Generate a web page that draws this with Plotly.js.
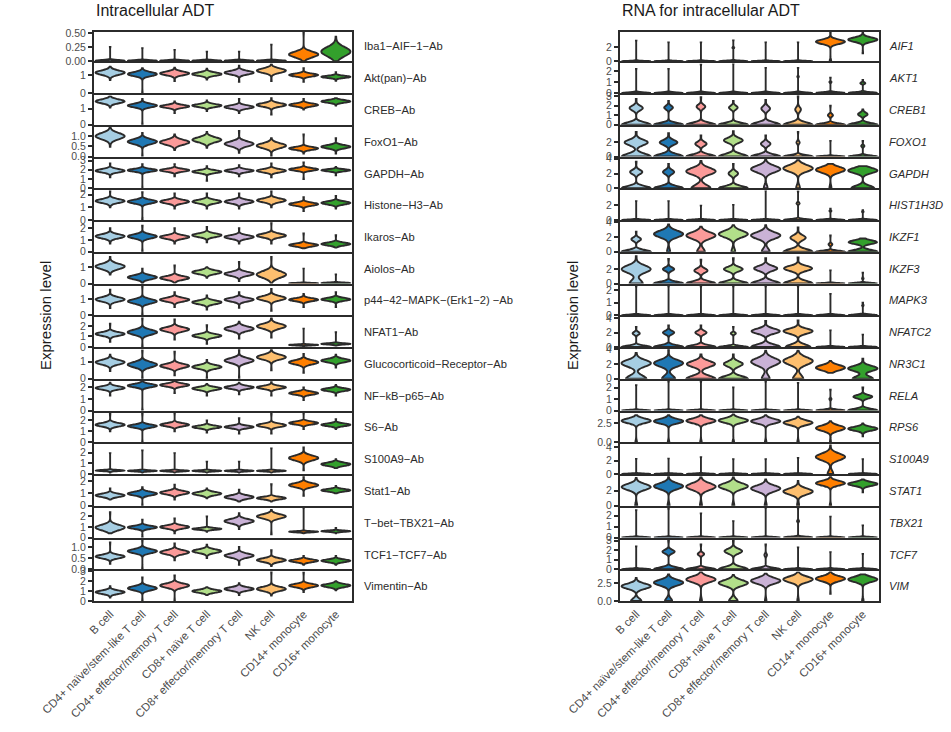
<!DOCTYPE html>
<html>
<head>
<meta charset="utf-8">
<script src="https://cdn.plot.ly/plotly-3.0.1.min.js"></script>
<style>html,body{margin:0;padding:0;background:#fff;}#chart{width:951px;height:732px;}</style>
</head>
<body>
<div id="chart"></div>
<script>
// ---------------- DATA ----------------
const cellTypes = ["B cell","CD4+ naïve/stem-like T cell","CD4+ effector/memory T cell","CD8+ naïve T cell","CD8+ effector/memory T cell","NK cell","CD14+ monocyte","CD16+ monocyte"];

const adtMarkers = ["Iba1\u2212AIF\u22121\u2212Ab","Akt(pan)\u2212Ab","CREB\u2212Ab","FoxO1\u2212Ab","GAPDH\u2212Ab","Histone\u2212H3\u2212Ab","Ikaros\u2212Ab","Aiolos\u2212Ab","p44\u221242\u2212MAPK\u2212(Erk1\u22122) \u2212Ab","NFAT1\u2212Ab","Glucocorticoid\u2212Receptor\u2212Ab","NF\u2212kB\u2212p65\u2212Ab","S6\u2212Ab","S100A9\u2212Ab","Stat1\u2212Ab","T\u2212bet\u2212TBX21\u2212Ab","TCF1\u2212TCF7\u2212Ab","Vimentin\u2212Ab"];
const adtMax = [0.52,1.64,1.83,1.45,3.2,2.33,2.5,1.8,1.8,2.8,1.72,2.55,2.7,2.77,2.38,2.8,1.32,3.0];
const adtTickLabels = [["0.00","0.25","0.50"],["0","1"],["0","1"],["0.0","0.5","1.0"],["0","1","2","3"],["0","1","2"],["0","1","2"],["0","1"],["0","1"],["0","1","2"],["0","1"],["0","1","2"],["0","1","2"],["0","1","2"],["0","1","2"],["0","1","2"],["0.0","0.5","1.0"],["0","1","2","3"]];
const adtCenter = [
 [0.01,0.01,0.01,0.01,0.01,0.01,0.12,0.17],
 [1.13,1.05,1.09,1.05,1.13,1.24,1.0,0.9],
 [1.45,1.19,1.14,1.19,1.1,1.23,1.23,1.45],
 [1.0,0.73,0.7,0.82,0.62,0.53,0.4,0.48],
 [1.9,1.95,1.95,1.8,1.9,1.9,2.05,1.95],
 [1.5,1.45,1.45,1.45,1.45,1.55,1.25,1.35],
 [1.31,1.3,1.25,1.4,1.25,1.37,0.57,0.66],
 [1.04,0.38,0.34,0.69,0.59,0.55,0.02,0.03],
 [0.97,0.85,0.95,0.79,0.95,1.04,0.95,0.97],
 [1.24,1.4,1.67,1.07,1.73,1.97,0.2,0.3],
 [0.96,0.82,0.75,0.69,1.06,1.26,0.96,1.06],
 [1.95,2.15,2.2,1.9,2.0,2.0,1.5,1.8],
 [1.6,1.48,1.6,1.4,1.4,1.55,1.76,1.6],
 [0.33,0.3,0.3,0.3,0.3,0.3,1.5,0.92],
 [0.84,0.98,1.06,0.98,0.7,0.62,1.66,1.25],
 [0.95,0.97,1.0,0.82,1.55,2.0,0.55,0.6],
 [0.57,0.81,0.76,0.81,0.61,0.41,0.38,0.38],
 [0.9,1.3,1.57,1.0,1.23,1.23,1.57,1.57]
];
const adtSpread = [
 [0.012,0.01,0.01,0.01,0.01,0.01,0.05,0.08],
 [0.12,0.11,0.1,0.09,0.1,0.12,0.08,0.06],
 [0.12,0.11,0.09,0.09,0.1,0.11,0.09,0.08],
 [0.15,0.12,0.12,0.12,0.12,0.12,0.07,0.08],
 [0.18,0.15,0.15,0.15,0.15,0.17,0.14,0.11],
 [0.15,0.14,0.14,0.14,0.14,0.15,0.12,0.12],
 [0.17,0.17,0.15,0.15,0.15,0.16,0.12,0.12],
 [0.16,0.12,0.11,0.11,0.12,0.2,0.02,0.03],
 [0.13,0.13,0.11,0.11,0.11,0.13,0.09,0.09],
 [0.17,0.23,0.2,0.16,0.21,0.23,0.04,0.06],
 [0.13,0.15,0.12,0.11,0.14,0.14,0.12,0.1],
 [0.14,0.14,0.13,0.13,0.13,0.13,0.13,0.12],
 [0.16,0.14,0.14,0.12,0.12,0.15,0.13,0.12],
 [0.05,0.05,0.05,0.05,0.05,0.05,0.23,0.15],
 [0.13,0.14,0.14,0.13,0.14,0.1,0.16,0.1],
 [0.25,0.14,0.15,0.08,0.2,0.2,0.05,0.06],
 [0.08,0.09,0.09,0.08,0.09,0.08,0.06,0.06],
 [0.17,0.21,0.21,0.15,0.17,0.21,0.17,0.16]
];
const adtTop = [
 [0.25,0.23,0.2,0.17,0.17,0.29,0.52,0.43],
 [1.46,1.37,1.4,1.35,1.52,1.6,1.37,1.15],
 [1.76,1.6,1.45,1.5,1.6,1.65,1.6,1.65],
 [1.4,1.15,1.08,1.2,1.25,0.9,1.08,0.9],
 [2.7,2.6,2.6,2.4,2.5,2.7,2.8,2.3],
 [2.33,2.2,2.1,2.1,2.1,2.3,1.8,1.9],
 [2.0,2.2,2.0,2.1,2.0,2.5,1.55,1.4],
 [1.62,0.9,1.1,1.0,1.31,1.62,0.9,0.55],
 [1.56,1.8,1.4,1.2,1.4,1.6,1.3,1.4],
 [2.2,2.8,2.6,2.07,2.4,2.8,1.73,1.4],
 [1.4,1.65,1.57,1.1,1.7,1.72,1.45,1.4],
 [2.4,2.55,2.55,2.3,2.4,2.45,2.0,2.2],
 [2.6,2.6,2.7,2.0,2.2,2.6,2.7,2.1],
 [1.96,2.2,1.96,1.15,1.15,2.4,2.5,1.4],
 [1.4,1.5,1.7,1.4,1.3,1.74,2.38,1.6],
 [2.4,1.7,1.8,2.0,2.3,2.6,2.8,0.9],
 [1.2,1.3,1.15,1.1,1.0,0.85,0.6,0.6],
 [1.5,2.4,2.6,1.4,1.8,3.0,2.9,2.0]
];
const adtBottom = [
 [0,0,0,0,0,0,0,0],
 [0.72,0,0.67,0.75,0.63,0.67,0.63,0.68],
 [1.06,0,0.73,0.85,0.73,0.63,0.94,1.19],
 [0.48,0,0.32,0.43,0.18,0,0.15,0.15],
 [1.2,0,1.3,0.8,1.3,1.2,1.0,1.4],
 [1.0,0,0.9,0.9,0.9,1.0,0.7,0.9],
 [0.7,0,0.7,0.8,0.7,0.7,0.3,0.35],
 [0.55,0,0.05,0.35,0.15,0,0,0],
 [0.44,0,0.5,0.35,0.45,0.27,0.5,0.5],
 [0.5,0,0.7,0.3,0.8,0.9,0.1,0.15],
 [0.45,0,0.2,0,0,0.5,0.35,0.65],
 [1.3,0,1.5,1.3,1.4,1.3,0.9,1.3],
 [1.0,0,1.0,0.9,0.8,0.8,1.2,1.2],
 [0.15,0.15,0.15,0.15,0.15,0.15,0.35,0.55],
 [0.5,0,0.5,0.6,0.35,0.35,0.8,1.0],
 [0.4,0,0.4,0.55,0.8,0.3,0.4,0.4],
 [0.25,0,0.4,0.5,0.2,0.15,0.2,0.2],
 [0.35,0,0,0.6,0.6,0.55,0.9,1.1]
];

const rnaGenes = ["AIF1","AKT1","CREB1","FOXO1","GAPDH","HIST1H3D","IKZF1","IKZF3","MAPK3","NFATC2","NR3C1","RELA","RPS6","S100A9","STAT1","TBX21","TCF7","VIM"];
const rnaMax = [4.1,2.7,3.1,4.2,4.0,3.9,4.0,4.1,2.36,4.1,4.0,2.57,3.93,4.4,3.93,2.7,3.1,4.1];
const rnaTickLabels = [["0","2"],["0","1","2"],["0","1","2","3"],["0","2"],["0","2","4"],["0","2"],["0","2","4"],["0","2"],["0","1","2"],["0","2","4"],["0","2","4"],["0","1","2"],["0.0","2.5"],["0","2","4"],["0","2","4"],["0","1","2"],["0","1","2","3"],["0.0","2.5"]];
const rnaZero = [
 [1,1,1,0.93,1,1,0.03,0],
 [1,1,1,1,1,0.95,0.93,0.85],
 [0.69,0.77,0.77,0.77,0.77,0.83,0.85,0.75],
 [0.55,0.62,0.72,0.6,0.75,0.9,1,0.9],
 [0.7,0.72,0.38,0.75,0.1,0.1,0.05,0.44],
 [1,1,1,1,1,0.9,0.93,0.95],
 [0.75,0.08,0.2,0.1,0.2,0.65,0.88,0.5],
 [0.3,0.72,0.68,0.6,0.55,0.5,1,0.95],
 [1,1,1,1,1,1,1,0.95],
 [0.8,0.72,0.72,0.85,0.5,0.45,1,1],
 [0.4,0.3,0.5,0.6,0.2,0.25,0,0.4],
 [1,1,1,1,1,1,0.93,0.6],
 [0.03,0.03,0.03,0.03,0.03,0.03,0.02,0],
 [1,1,1,1,1,1,0.15,1],
 [0.05,0.05,0.05,0.05,0.05,0.05,0.03,0],
 [1,1,1,1,1,0.93,1,1],
 [1,0.7,0.82,0.62,0.92,1,1,1],
 [0.25,0.18,0.05,0.22,0.03,0.03,0,0.03]
];
const rnaCenter = [
 [0,0,0,1.9,0,0,2.7,3.0],
 [0,0,0,0,0,1.5,1.0,0.9],
 [1.75,1.8,1.9,1.8,1.7,1.6,1.0,1.1],
 [2.0,2.0,1.8,2.3,1.8,2.0,0,1.5],
 [2.2,2.2,2.3,2.0,2.6,2.7,2.5,2.4],
 [0,0,0,0,0,2.2,1.2,1.1],
 [1.7,2.4,2.2,2.4,2.2,1.9,1.0,1.3],
 [2.0,2.0,1.8,2.0,2.1,2.1,0,0.7],
 [0,0,0,0,0,0,0,0.8],
 [1.9,2.0,2.0,1.9,2.2,2.2,0,0],
 [2.1,2.1,2.0,2.0,2.3,2.4,1.5,1.4],
 [0,0,0,0,0,0,1.0,1.2],
 [2.85,2.8,2.85,2.9,2.8,2.6,1.88,1.8],
 [0,0,0,0,0,0,2.55,0],
 [2.5,2.6,2.55,2.6,2.3,1.9,3.0,2.9],
 [0,0,0,0,0,1.5,0,0],
 [0,1.85,1.6,1.9,1.5,0,0,0],
 [2.05,2.55,3.0,2.5,2.8,3.0,3.1,3.0]
];
const rnaSpread = [
 [0.06,0.06,0.06,0.08,0.06,0.06,0.3,0.3],
 [0.06,0.06,0.06,0.06,0.06,0.06,0.07,0.08],
 [0.25,0.2,0.22,0.2,0.25,0.25,0.15,0.18],
 [0.4,0.35,0.3,0.35,0.3,0.2,0.08,0.15],
 [0.3,0.3,0.45,0.3,0.45,0.45,0.4,0.35],
 [0.07,0.07,0.07,0.07,0.07,0.12,0.08,0.08],
 [0.25,0.45,0.45,0.45,0.45,0.35,0.15,0.25],
 [0.5,0.25,0.3,0.3,0.35,0.35,0.07,0.1],
 [0.05,0.05,0.05,0.05,0.05,0.05,0.05,0.06],
 [0.2,0.25,0.25,0.15,0.35,0.35,0.07,0.07],
 [0.45,0.45,0.4,0.35,0.5,0.5,0.35,0.35],
 [0.05,0.05,0.05,0.05,0.05,0.05,0.08,0.15],
 [0.3,0.3,0.3,0.3,0.3,0.3,0.35,0.25],
 [0.07,0.07,0.07,0.07,0.07,0.07,0.5,0.07],
 [0.4,0.4,0.45,0.4,0.4,0.4,0.3,0.25],
 [0.05,0.05,0.05,0.05,0.05,0.08,0.05,0.05],
 [0.06,0.2,0.15,0.25,0.15,0.06,0.06,0.06],
 [0.36,0.4,0.4,0.4,0.4,0.4,0.35,0.35]
];
const rnaTop = [
 [2.85,2.6,2.6,2.9,2.6,2.6,4.0,4.1],
 [2.2,2.2,2.6,2.7,2.3,2.3,1.4,1.2],
 [2.7,2.5,2.9,2.5,2.6,3.0,2.0,1.6],
 [3.5,3.3,3.0,3.6,3.0,3.5,2.2,2.2],
 [3.6,3.3,3.7,3.3,3.9,3.8,3.3,3.0],
 [2.5,2.5,1.9,2.0,3.9,3.8,1.5,1.3],
 [2.7,3.7,3.4,3.6,3.6,3.3,2.2,1.8],
 [3.8,3.4,3.3,3.5,3.5,3.6,1.8,1.5],
 [2.3,2.3,2.3,2.3,2.3,2.3,1.7,1.0],
 [2.8,3.0,3.0,2.8,3.6,3.7,2.3,1.7],
 [3.5,4.0,3.3,3.3,3.8,3.8,2.4,2.7],
 [2.2,2.5,2.5,2.0,2.5,2.4,1.8,2.0],
 [3.6,3.6,3.6,3.7,3.6,3.4,2.8,2.5],
 [2.25,2.3,2.5,2.2,2.2,2.4,4.4,2.2],
 [3.7,3.9,3.8,3.8,3.5,3.3,3.9,3.5],
 [2.5,2.6,2.2,1.5,2.7,2.7,1.9,1.1],
 [2.4,3.0,2.6,3.0,2.6,2.3,1.8,1.6],
 [3.2,3.7,4.1,3.6,3.8,4.0,4.1,3.7]
];
const rnaBottom = [
 [0,0,0,0,0,0,0,1.1],
 [0,0,0,0,0,0,0,0],
 [0,0,0,0,0,0,0,0],
 [0,0,0,0,0,0,0,0],
 [0,0,0,0,0,0,0,0],
 [0,0,0,0,0,0,0,0],
 [0,0,0,0,0,0,0,0],
 [0,0,0,0,0,0,0,0],
 [0,0,0,0,0,0,0,0],
 [0,0,0,0,0,0,0,0],
 [0,0,0,0,0,0,0.8,0],
 [0,0,0,0,0,0,0,0],
 [0,0,0,0,0,0,0,0.8],
 [0,0,0,0,0,0,0,0],
 [0,0,0,0,0,0.2,0,1.8],
 [0,0,0,0,0,0,0,0],
 [0,0,0,0,0,0,0,0],
 [0,0,0,0,0,0,1.0,0]
];

// ---------------- STYLE ----------------
const cellColors = ["#a6cee3","#1f78b4","#fb9a99","#b2df8a","#cab2d6","#fdbf6f","#ff7f00","#33a02c"];
const W = 951, H = 732;
const FONT = "Liberation Sans, Arial, Helvetica, sans-serif";
const INK = "#2b2b2b";
const panels = [
  {x0: 94, x1: 352, labelX: 362, italic: false, title: "Intracellular ADT", ytitleX: 45,
   names: adtMarkers, ymax: adtMax, ticks: adtTickLabels,
   zero: null, center: adtCenter, spread: adtSpread, top: adtTop, bottom: adtBottom},
  {x0: 620, x1: 879, labelX: 887, italic: true, title: "RNA for intracellular ADT", ytitleX: 572,
   names: rnaGenes, ymax: rnaMax, ticks: rnaTickLabels,
   zero: rnaZero, center: rnaCenter, spread: rnaSpread, top: rnaTop, bottom: rnaBottom}
];
const ROW_TOP = 31.7, ROW_STEP = 31.75, ROW_H = 29.6;

function buildSample(z, c, t, b) {
  const N = 60;
  const nz = Math.round(z * N);
  const vals = [b, t];
  for (let k = 0; k < nz; k++) vals.push(0);
  for (let k = nz; k < N; k++) vals.push(c);
  return vals;
}

const traces = [];
const layout = {
  width: W, height: H,
  margin: {l: 0, r: 0, t: 0, b: 0},
  paper_bgcolor: "#ffffff", plot_bgcolor: "#ffffff",
  showlegend: false,
  violinmode: "overlay", violingap: 0,
  font: {family: FONT, color: INK},
  annotations: []
};

panels.forEach((p, pi) => {
  for (let i = 0; i < 18; i++) {
    const k = pi * 18 + i + 1;
    const sfx = k === 1 ? "" : String(k);
    const top = ROW_TOP + ROW_STEP * i;
    const bot = top + ROW_H;
    layout["xaxis" + sfx] = {
      domain: [p.x0 / W, p.x1 / W], anchor: "y" + sfx,
      type: "category", categoryorder: "array", categoryarray: cellTypes,
      range: [-0.5, 7.5], showline: true, mirror: true, linecolor: INK, linewidth: 2,
      ticks: "", showgrid: false, zeroline: false,
      showticklabels: i === 17, tickangle: -45,
      tickfont: {family: FONT, size: 11.5, color: "#4d4d4d"}
    };
    layout["yaxis" + sfx] = {
      domain: [1 - bot / H, 1 - top / H], anchor: "x" + sfx,
      range: [0, p.ymax[i]],
      tickmode: "array", tickvals: p.ticks[i].map(Number), ticktext: p.ticks[i],
      ticks: "outside", ticklen: 4, tickwidth: 2, tickcolor: INK,
      showline: true, mirror: true, linecolor: INK, linewidth: 2,
      showgrid: false, zeroline: false,
      tickfont: {family: FONT, size: 10.5, color: "#4d4d4d"}
    };
    for (let j = 0; j < 8; j++) {
      const z = p.zero ? p.zero[i][j] : 0;
      traces.push({
        type: "violin",
        x0: cellTypes[j], name: cellTypes[j],
        y: buildSample(z, p.center[i][j], p.top[i][j], p.bottom[i][j]),
        xaxis: "x" + sfx, yaxis: "y" + sfx,
        bandwidth: p.spread[i][j], spanmode: "hard", scalemode: "width", width: 0.9,
        fillcolor: cellColors[j], line: {color: INK, width: 1.9},
        points: false, box: {visible: false}, meanline: {visible: false},
        hoverinfo: "skip", showlegend: false
      });
    }
    layout.annotations.push({
      xref: "paper", yref: "paper", x: p.labelX / W, y: 1 - (top + ROW_H / 2) / H,
      xanchor: "left", yanchor: "middle", showarrow: false,
      text: p.italic ? "<i>" + p.names[i] + "</i>" : p.names[i],
      font: {family: FONT, size: 11.2, color: INK}
    });
  }
  layout.annotations.push({
    xref: "paper", yref: "paper", x: p.x0 / W, y: 1 - 10 / H,
    xanchor: "left", yanchor: "middle", showarrow: false,
    text: p.title, font: {family: FONT, size: 16, color: "#1a1a1a"}
  });
  layout.annotations.push({
    xref: "paper", yref: "paper", x: p.ytitleX / W, y: 1 - 316 / H,
    xanchor: "center", yanchor: "middle", showarrow: false, textangle: -90,
    text: "Expression level", font: {family: FONT, size: 15, color: "#1a1a1a"}
  });
});

Plotly.newPlot("chart", traces, layout, {staticPlot: true, displayModeBar: false});
</script>
</body>
</html>
